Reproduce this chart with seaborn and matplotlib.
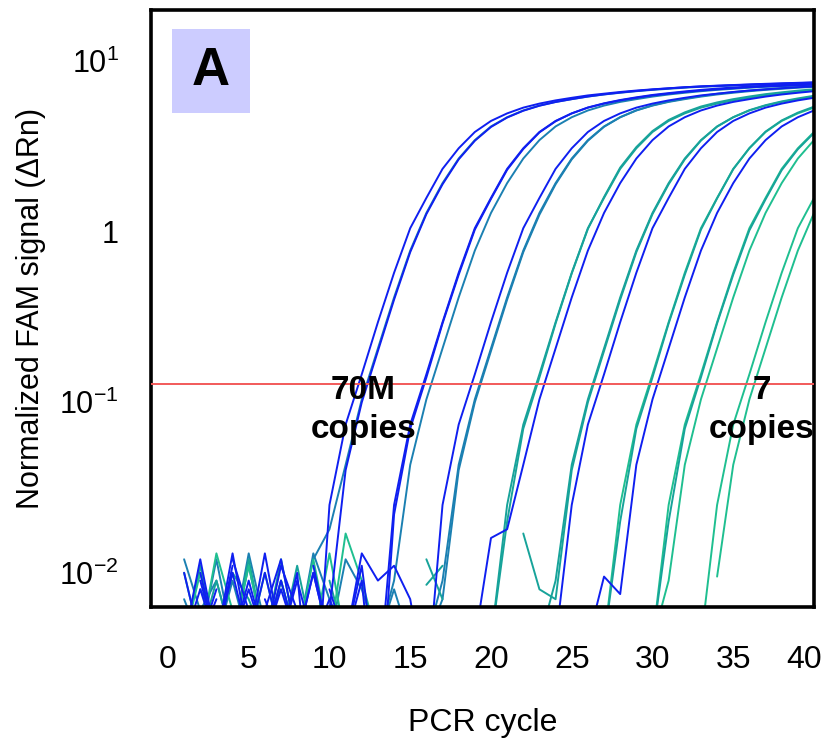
import numpy as np
import pandas as pd
import seaborn as sns
import matplotlib.pyplot as plt
import matplotlib.transforms as mtrans
from matplotlib.patches import Rectangle
from matplotlib.ticker import NullLocator

# ---------------------------------------------
# qPCR amplification curves, 10-fold dilutions
# 70M copies ... 7 copies, replicates per dilution
# values = normalized FAM signal (dRn) at cycles 1..40
# None = negative reading (not drawn on log axis)
# ---------------------------------------------
N = None
cycles = list(range(1, 41))

# 70M copies
g1_a = [N, 0.009, 0.004, 0.011, N, 0.007, 0.004, 0.010, 0.001, 0.025,
        0.074, 0.146, 0.295, 0.575, 1.05, 1.58, 2.34, 3.09, 3.85, 4.47,
        4.95, 5.35, 5.65, 5.9, 6.11, 6.31, 6.46, 6.61, 6.74, 6.85,
        6.95, 7.05, 7.12, 7.18, 7.24, 7.3, 7.35, 7.4, 7.45, 7.5]
g1_b = [0.012, 0.006, 0.009, 0.004, 0.013, 0.005, 0.008, N, 0.012, 0.018,
        0.043, 0.104, 0.207, 0.412, 0.776, 1.29, 1.93, 2.69, 3.45, 4.15,
        4.7, 5.15, 5.5, 5.78, 6.0, 6.21, 6.39, 6.54, 6.68, 6.8,
        6.9, 7.0, 7.09, 7.15, 7.21, 7.27, 7.33, 7.38, 7.43, 7.48]
g1_c = [0.004, 0.004, 0.008, N, 0.005, 0.004, 0.011, 0.006, 0.004, 0.006,
        0.04, 0.1, 0.2, 0.4, 0.76, 1.27, 1.9, 2.66, 3.42, 4.12,
        4.68, 5.13, 5.49, 5.77, 6.0, 6.22, 6.4, 6.56, 6.7, 6.83,
        6.94, 7.04, 7.13, 7.2, 7.26, 7.32, 7.38, 7.43, 7.48, 7.53]

# 7M copies
g2_a = [0.010, 0.004, N, 0.012, 0.006, 0.004, 0.009, 0.004, N, 0.008,
        0.004, 0.011, 0.002, 0.025, 0.074, 0.146, 0.295, 0.575, 1.05, 1.58,
        2.34, 3.09, 3.85, 4.47, 4.95, 5.35, 5.65, 5.9, 6.11, 6.31,
        6.46, 6.61, 6.74, 6.85, 6.95, 7.05, 7.12, 7.18, 7.24, 7.3]
g2_b = [N, 0.008, 0.005, 0.004, 0.011, 0.004, N, 0.004, 0.013, 0.007,
        0.004, 0.005, 0.004, 0.009, 0.043, 0.104, 0.207, 0.412, 0.776, 1.29,
        1.93, 2.69, 3.45, 4.15, 4.7, 5.15, 5.5, 5.78, 6.0, 6.21,
        6.39, 6.54, 6.68, 6.8, 6.9, 7.0, 7.09, 7.15, 7.21, 7.27]
g2_c = [0.004, 0.004, 0.007, N, 0.004, 0.010, 0.004, 0.006, 0.004, N,
        0.004, 0.009, 0.001, 0.022, 0.07, 0.14, 0.29, 0.56, 1.03, 1.56,
        2.31, 3.06, 3.83, 4.45, 4.95, 5.36, 5.67, 5.93, 6.15, 6.35,
        6.51, 6.66, 6.8, 6.92, 7.02, 7.11, 7.19, 7.26, 7.32, 7.38]

# 700k copies
g3_a = [0.007, 0.004, 0.012, 0.004, N, 0.004, 0.009, 0.004, 0.004, 0.006,
        N, 0.004, 0.004, 0.008, 0.004, 0.004, 0.009, 0.043, 0.104, 0.207,
        0.412, 0.776, 1.29, 1.93, 2.69, 3.45, 4.15, 4.7, 5.15, 5.5,
        5.78, 6.0, 6.21, 6.39, 6.54, 6.68, 6.8, 6.9, 7.0, 7.09]
g3_b = [N, 0.010, 0.004, 0.004, 0.008, 0.004, 0.004, N, 0.011, 0.004,
        0.004, 0.013, 0.009, 0.011, 0.007, 0.002, 0.025, 0.074, 0.146, 0.295,
        0.575, 1.05, 1.58, 2.34, 3.09, 3.85, 4.47, 4.95, 5.35, 5.65,
        5.9, 6.11, 6.31, 6.46, 6.61, 6.74, 6.85, 6.95, 7.05, 7.12]
g3_c = [0.004, 0.004, 0.004, 0.009, 0.004, N, 0.004, 0.004, 0.004, 0.004,
        0.012, 0.008, 0.004, N, N, 0.004, 0.007, 0.04, 0.1, 0.2,
        0.4, 0.76, 1.26, 1.9, 2.66, 3.42, 4.13, 4.7, 5.16, 5.52,
        5.81, 6.05, 6.26, 6.45, 6.6, 6.74, 6.86, 6.97, 7.06, 7.15]

# 70k copies
g4_a = [0.004, 0.011, 0.004, 0.010, 0.007, 0.004, 0.012, 0.004, N, 0.009,
        0.004, 0.004, 0.004, 0.004, 0.004, 0.004, 0.004, N, 0.004, 0.004,
        0.025, 0.074, 0.146, 0.295, 0.575, 1.05, 1.58, 2.34, 3.09, 3.85,
        4.47, 4.95, 5.35, 5.65, 5.9, 6.11, 6.31, 6.46, 6.61, 6.74]
g4_b = [0.004, 0.008, 0.004, 0.013, 0.004, 0.006, 0.012, 0.004, 0.010, 0.004,
        0.004, N, 0.004, 0.004, 0.004, 0.004, 0.004, 0.004, 0.004, 0.016,
        0.018, 0.043, 0.104, 0.207, 0.412, 0.776, 1.29, 1.93, 2.69, 3.45,
        4.15, 4.7, 5.15, 5.5, 5.78, 6.0, 6.21, 6.39, 6.54, 6.68]
g4_c = [0.004, 0.004, 0.004, 0.004, 0.004, N, 0.004, 0.004, 0.004, 0.004,
        0.004, 0.004, 0.004, 0.004, N, 0.012, 0.007, N, 0.004, 0.004,
        0.02, 0.07, 0.14, 0.29, 0.57, 1.04, 1.6, 2.38, 3.14, 3.9,
        4.53, 5.02, 5.43, 5.74, 6.0, 6.22, 6.42, 6.58, 6.73, 6.86]

# 7k copies
g5_a = [0.010, 0.004, 0.009, 0.004, 0.012, 0.004, 0.004, 0.011, 0.004, 0.004,
        0.004, 0.004, 0.004, 0.004, N, 0.0085, 0.011, N, 0.004, 0.004,
        0.004, 0.004, 0.004, 0.009, 0.043, 0.104, 0.207, 0.412, 0.776, 1.29,
        1.93, 2.69, 3.45, 4.15, 4.7, 5.15, 5.5, 5.78, 6.0, 6.21]
g5_b = [0.004, 0.012, 0.004, 0.004, 0.009, 0.004, 0.008, 0.004, 0.010, 0.004,
        0.004, 0.004, 0.004, 0.004, 0.004, 0.004, 0.004, 0.004, 0.004, 0.004,
        0.004, 0.004, 0.004, 0.004, 0.025, 0.074, 0.146, 0.295, 0.575, 1.05,
        1.58, 2.34, 3.09, 3.85, 4.47, 4.95, 5.35, 5.65, 5.9, 6.11]
g5_c = [0.004, 0.004, 0.004, 0.004, 0.004, 0.004, 0.004, 0.004, 0.004, 0.004,
        0.004, 0.004, 0.004, 0.004, 0.004, 0.004, 0.004, 0.004, 0.004, N,
        N, 0.017, 0.008, 0.007, 0.04, 0.1, 0.2, 0.4, 0.76, 1.27,
        1.9, 2.66, 3.43, 4.14, 4.7, 5.17, 5.53, 5.82, 6.06, 6.28]

# 700 copies
g6_a = [0.004, 0.004, 0.013, 0.006, 0.004, 0.010, 0.004, 0.004, 0.012, 0.004,
        0.004, 0.004, 0.004, 0.004, 0.004, 0.004, 0.004, 0.004, 0.004, 0.004,
        0.004, 0.004, 0.004, 0.004, 0.004, 0.004, 0.004, 0.025, 0.074, 0.146,
        0.295, 0.575, 1.05, 1.58, 2.34, 3.09, 3.85, 4.47, 4.95, 5.35]
g6_b = [0.006, 0.004, 0.004, 0.010, 0.004, 0.013, 0.004, 0.009, 0.004, 0.007,
        0.004, 0.004, 0.004, 0.004, 0.004, 0.004, 0.004, 0.004, 0.004, 0.004,
        0.004, 0.004, 0.004, 0.004, 0.004, 0.004, 0.0095, 0.0075, 0.043, 0.104,
        0.207, 0.412, 0.776, 1.29, 1.93, 2.69, 3.45, 4.15, 4.7, 5.15]
g6_c = [0.004, 0.004, 0.004, 0.004, 0.004, 0.004, 0.004, 0.004, 0.004, 0.004,
        0.004, 0.004, 0.004, 0.004, 0.004, 0.004, 0.004, 0.004, 0.004, 0.004,
        0.004, 0.004, 0.004, 0.004, 0.004, 0.004, 0.004, 0.02, 0.07, 0.14,
        0.29, 0.56, 1.03, 1.57, 2.33, 3.1, 3.87, 4.5, 5.0, 5.42]

# 70 copies
g7_a = [0.004, 0.010, 0.004, 0.004, 0.011, 0.004, 0.009, 0.004, 0.004, 0.013,
        0.004, 0.004, 0.004, 0.004, 0.004, 0.004, 0.004, 0.004, 0.004, 0.004,
        0.004, 0.004, 0.004, 0.004, 0.004, 0.004, 0.004, 0.004, 0.004, 0.004,
        0.025, 0.074, 0.146, 0.295, 0.575, 1.05, 1.58, 2.34, 3.09, 3.85]
g7_b = [0.004, 0.004, 0.004, 0.004, 0.004, 0.004, 0.004, 0.004, 0.004, 0.004,
        0.017, 0.009, 0.004, 0.004, 0.004, 0.004, 0.004, 0.004, 0.004, 0.004,
        0.004, 0.004, 0.004, 0.004, 0.004, 0.004, 0.004, 0.004, 0.004, 0.004,
        0.009, 0.043, 0.104, 0.207, 0.412, 0.776, 1.29, 1.93, 2.69, 3.45]
g7_c = [0.004, 0.004, 0.004, 0.004, 0.004, 0.004, 0.004, 0.004, 0.004, 0.004,
        0.004, 0.004, 0.004, 0.004, 0.004, 0.004, 0.004, 0.004, 0.004, 0.004,
        0.004, 0.004, 0.004, 0.004, 0.004, 0.004, 0.004, 0.004, 0.004, 0.004,
        0.02, 0.07, 0.14, 0.29, 0.56, 1.02, 1.55, 2.3, 3.05, 3.8]

# 7 copies
g8_a = [0.004, 0.004, 0.004, 0.004, 0.004, 0.004, 0.004, 0.004, 0.004, 0.004,
        0.004, 0.004, 0.004, 0.004, 0.004, 0.004, 0.004, 0.004, 0.004, 0.004,
        0.004, 0.004, 0.004, 0.004, 0.004, 0.004, 0.004, 0.004, 0.004, 0.004,
        0.004, 0.004, 0.004, 0.025, 0.074, 0.146, 0.295, 0.575, 1.05, 1.58]
g8_b = [0.004, 0.004, 0.004, 0.004, 0.004, 0.004, 0.004, 0.004, 0.004, 0.004,
        0.004, 0.004, 0.004, 0.004, 0.004, 0.004, 0.004, 0.004, 0.004, 0.004,
        0.004, 0.004, 0.004, 0.004, 0.004, 0.004, 0.004, 0.004, 0.004, 0.004,
        0.004, 0.004, N, 0.0095, 0.043, 0.104, 0.207, 0.412, 0.776, 1.29]

threshold = 0.128
y_ticks = [0.01, 0.1, 1, 10]
y_tick_labels = [r'$10^{-2}$', r'$10^{-1}$', '1', r'$10^{1}$']
x_ticks = [0, 5, 10, 15, 20, 25, 30, 35, 40]

BLUE = '#0f1ff0'
TEALBLUE = '#1b80b2'
TEAL = '#17a39a'
GREEN = '#1fbf90'

# drawn in this order: teal/green first, blue on top
curves = [
    ('g1_b', g1_b, TEALBLUE), ('g2_b', g2_b, TEALBLUE), ('g3_a', g3_a, TEALBLUE),
    ('g3_c', g3_c, TEALBLUE), ('g4_a', g4_a, TEAL), ('g4_c', g4_c, TEAL),
    ('g5_a', g5_a, TEAL), ('g5_c', g5_c, TEAL), ('g6_a', g6_a, GREEN),
    ('g6_c', g6_c, TEAL), ('g7_a', g7_a, GREEN), ('g7_b', g7_b, GREEN),
    ('g7_c', g7_c, TEAL), ('g8_a', g8_a, GREEN), ('g8_b', g8_b, GREEN),
    ('g1_a', g1_a, BLUE), ('g1_c', g1_c, BLUE), ('g2_a', g2_a, BLUE),
    ('g2_c', g2_c, BLUE), ('g3_b', g3_b, BLUE), ('g4_b', g4_b, BLUE),
    ('g5_b', g5_b, BLUE), ('g6_b', g6_b, BLUE),
]

# long-form table; a negative reading breaks the line into segments
rows = []
for name, vals, _ in curves:
    seg = 0
    for c, v in zip(cycles, vals):
        if v is None:
            seg += 1
            continue
        rows.append({'cycle': c, 'signal': v, 'curve': name, 'segment': f'{name}-{seg}'})
df = pd.DataFrame(rows)

sns.set_style('white')
plt.rcParams['font.family'] = ['Liberation Sans', 'DejaVu Sans']
plt.rcParams['mathtext.default'] = 'regular'
plt.rcParams['text.color'] = 'black'
plt.rcParams['axes.labelcolor'] = 'black'

fig = plt.figure(figsize=(8.25, 7.47), dpi=100)
ax = fig.add_axes([151 / 825, 1 - 607 / 747, 663 / 825, 597 / 747])

sns.lineplot(data=df, x='cycle', y='signal', hue='curve',
             hue_order=[c[0] for c in curves],
             palette={c[0]: c[2] for c in curves},
             units='segment', estimator=None, legend=False,
             linewidth=1.4, ax=ax)

ax.axhline(threshold, color='#f25a5a', lw=1.4, zorder=5)

ax.set_yscale('log')
ax.set_ylim(0.0063, 20)
ax.set_xlim(-1.05, 40.0)
ax.set_yticks(y_ticks)
ax.set_yticklabels(y_tick_labels)
ax.yaxis.set_minor_locator(NullLocator())
ax.set_xticks(x_ticks)

for s in ax.spines.values():
    s.set_visible(True)
    s.set_color('black')
    s.set_linewidth(2.6)

ax.tick_params(axis='both', direction='out', length=10, width=2,
               colors='black')
ax.tick_params(axis='y', labelsize=22, pad=13)
ax.tick_params(axis='x', labelsize=23, pad=17)

# last x label sits a bit left of its tick, as in the figure
lbl = ax.get_xticklabels()[-1]
lbl.set_transform(lbl.get_transform() +
                  mtrans.ScaledTranslation(-7 / 72, 0, fig.dpi_scale_trans))

ax.set_xlabel('PCR cycle', fontsize=23, labelpad=24)
ax.set_ylabel('Normalized FAM signal (\u0394Rn)', fontsize=22, labelpad=10)

# panel letter
ax.add_patch(Rectangle((0.0317, 0.8275), 0.1176, 0.1407, transform=ax.transAxes,
                       facecolor='#ccccff', edgecolor='none', zorder=6))
ax.text(0.0905, 0.898, 'A', transform=ax.transAxes, ha='center', va='center',
        fontsize=38, fontweight='bold', color='black', zorder=7)

ax.text(0.32, 0.33, '70M\ncopies', transform=ax.transAxes, ha='center',
        va='center', fontsize=24, fontweight='bold', color='black',
        linespacing=1.35, zorder=7)
ax.text(0.9216, 0.33, '7\ncopies', transform=ax.transAxes, ha='center',
        va='center', fontsize=24, fontweight='bold', color='black',
        linespacing=1.35, zorder=7, clip_on=False)

fig.savefig('out.png', dpi=100)
